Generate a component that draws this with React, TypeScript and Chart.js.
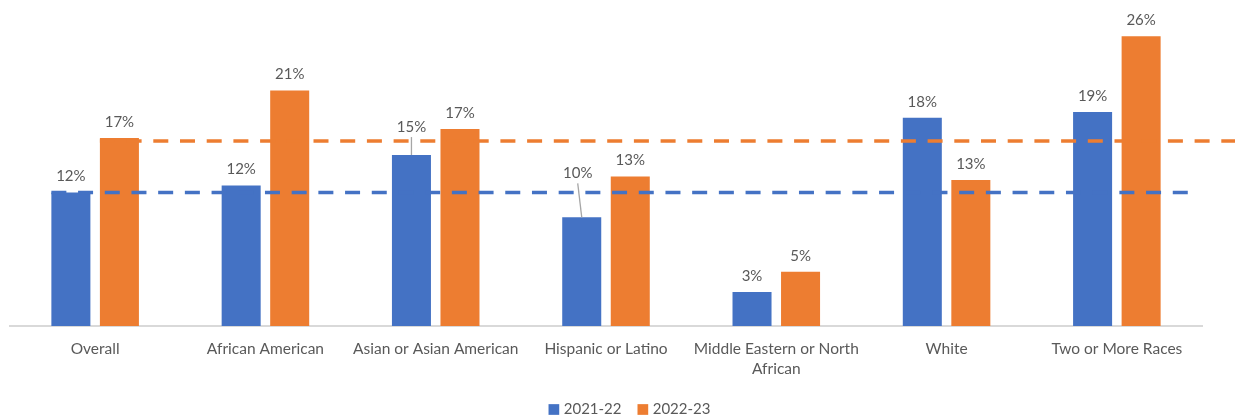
import React, { useEffect, useRef } from "react";
import { Chart, registerables } from "chart.js";

Chart.register(...registerables);

const categories: (string | string[])[] = [
  "Overall",
  "African American",
  "Asian or Asian American",
  "Hispanic or Latino",
  ["Middle Eastern or North", "African"],
  "White",
  "Two or More Races",
];
const seriesNames = ["2021-22", "2022-23"];
const values2122 = [11.8, 12.4, 15.1, 9.6, 3.0, 18.4, 18.9];
const values2223 = [16.6, 20.8, 17.4, 13.2, 4.8, 12.9, 25.6];
const overallLine = [11.8, 16.35];
const seriesColors = ["#4472C4", "#ED7D31"];

// extra raise of the data labels (with leader lines) for the 2021-22 series
const labelRaise2122 = [0, 0, 12, 28, 0, 0, 0];
const labelShiftX2122 = [0, 0, 0, -4, 0, 0, 0];

const FONT = "Lato, 'Open Sans', sans-serif";
const TEXT = "#595959";

const overlayPlugin = {
  id: "overlay",
  afterDatasetsDraw(chart: any) {
    const ctx = chart.ctx;
    const y = chart.scales.y;
    const x = chart.scales.x;
    const catW = (x.right - x.left) / categories.length;
    // dashed reference lines
    chart.data.datasets.forEach((ds: any, i: number) => {
      const meta = chart.getDatasetMeta(i);
      const bar = meta.data[0];
      const x0 = bar.x - bar.width / 2;
      const x1 = x0 + 6.7 * catW;
      const py = y.getPixelForValue(overallLine[i]);
      ctx.save();
      ctx.strokeStyle = seriesColors[i];
      ctx.lineWidth = 3.5;
      ctx.setLineDash([15, 11.7]);
      ctx.lineCap = "butt";
      ctx.beginPath();
      ctx.moveTo(x0, py);
      ctx.lineTo(x1, py);
      ctx.stroke();
      ctx.restore();
    });
    // data labels
    chart.data.datasets.forEach((ds: any, i: number) => {
      const meta = chart.getDatasetMeta(i);
      meta.data.forEach((bar: any, j: number) => {
        const raise = i === 0 ? labelRaise2122[j] : 0;
        const dx = i === 0 ? labelShiftX2122[j] : 0;
        const cy = bar.y - 16 - raise;
        const cx = bar.x + dx;
        ctx.save();
        if (raise > 0) {
          ctx.strokeStyle = "#A6A6A6";
          ctx.lineWidth = 1.3;
          ctx.beginPath();
          ctx.moveTo(cx, cy + 10);
          ctx.lineTo(bar.x, bar.y);
          ctx.stroke();
        }
        ctx.fillStyle = TEXT;
        ctx.font = `15px ${FONT}`;
        ctx.textAlign = "center";
        ctx.textBaseline = "middle";
        ctx.fillText(Math.round(ds.data[j]) + "%", cx, cy);
        ctx.restore();
      });
    });
  },
  afterDraw(chart: any) {
    const ctx = chart.ctx;
    ctx.save();
    ctx.font = `15px ${FONT}`;
    const box = 10.7;
    const gap = 4.5;
    const spacing = 16;
    const widths = seriesNames.map((n) => ctx.measureText(n).width);
    const total = widths.reduce((a, w) => a + box + gap + w, 0) + spacing;
    let lx = chart.width / 2 + 12 - total / 2;
    const ly = 409.5;
    seriesNames.forEach((n, i) => {
      ctx.fillStyle = seriesColors[i];
      ctx.fillRect(lx, ly - box / 2, box, box);
      lx += box + gap;
      ctx.fillStyle = TEXT;
      ctx.textAlign = "left";
      ctx.textBaseline = "middle";
      ctx.fillText(n, lx, ly);
      lx += widths[i] + spacing;
    });
    ctx.restore();
  },
};

export default function App() {
  const ref = useRef<HTMLCanvasElement | null>(null);
  useEffect(() => {
    document.body.style.margin = "0";
    if (!ref.current) return;
    const chart = new Chart(ref.current, {
      type: "bar",
      data: {
        labels: categories as any,
        datasets: [
          {
            label: seriesNames[0],
            data: values2122,
            backgroundColor: seriesColors[0],
            categoryPercentage: 0.57,
            barPercentage: 0.804,
          },
          {
            label: seriesNames[1],
            data: values2223,
            backgroundColor: seriesColors[1],
            categoryPercentage: 0.57,
            barPercentage: 0.804,
          },
        ],
      },
      options: {
        animation: false,
        responsive: false,
        layout: { padding: { left: 10, right: 33, top: 9, bottom: 0 } },
        plugins: { legend: { display: false }, tooltip: { enabled: false } },
        scales: {
          y: { display: false, min: 0, max: 28 },
          x: {
            grid: { display: false, drawTicks: false },
            border: { display: true, color: "#D9D9D9", width: 2 },
            ticks: {
              color: TEXT,
              font: { family: FONT, size: 15.5, lineHeight: "20px" } as any,
              padding: 13,
              maxRotation: 0,
              autoSkip: false,
            },
            afterFit: (scale: any) => {
              scale.height = 91;
            },
          },
        },
      },
      plugins: [overlayPlugin],
    });
    return () => chart.destroy();
  }, []);
  return (
    <div style={{ width: 1235, height: 417 }}>
      <canvas ref={ref} width={1235} height={417} />
    </div>
  );
}
